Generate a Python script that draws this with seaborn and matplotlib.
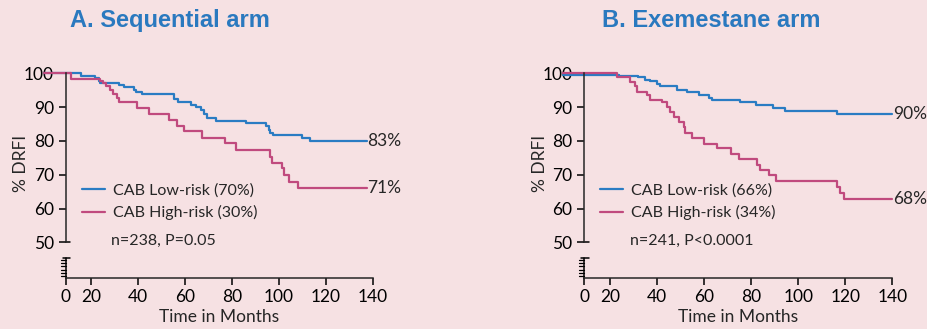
import matplotlib
matplotlib.use("Agg")
import matplotlib.pyplot as plt
import seaborn as sns
import pandas as pd

# Dữ liệu (tháng, % DRFI)
seq_low_t = [0, 15.6, 21.8, 23.3, 23.8, 31.8, 34.2, 38.4, 39.2, 41.6, 55.5, 56.9, 62.5, 64.8, 66.8,
             68.2, 69.3, 73.3, 85.8, 94.5, 95.6, 96.3, 97.3, 110.0, 113.3, 137.4]
seq_low_s = [100, 99.3, 98.7, 97.8, 97.2, 96.6, 96.0, 95.1, 94.4, 93.8, 92.4, 91.5, 90.6, 89.9, 89.1,
             88.0, 86.9, 86.0, 85.2, 84.3, 83.3, 82.3, 81.8, 80.9, 80.1, 80.1]
seq_high_t = [0, 11.3, 24.0, 25.0, 26.5, 28.0, 29.5, 31.0, 32.0, 39.7, 44.7, 53.2, 56.5, 59.6, 67.1,
              76.9, 81.7, 96.3, 97.0, 101.3, 102.1, 104.5, 108.1, 137.4]
seq_high_s = [100, 98.4, 97.8, 97.0, 96.1, 95.0, 93.8, 92.8, 91.6, 89.6, 88.1, 86.3, 84.4, 82.8, 81.0,
              79.3, 77.4, 75.4, 73.5, 71.9, 70.0, 68.0, 66.0, 66.0]

exe_low_t = [0, 24.0, 32.0, 35.0, 37.1, 40.0, 41.4, 48.6, 52.9, 57.9, 62.1, 63.6, 75.2, 82.1, 89.3,
             94.3, 116.5, 140]
exe_low_s = [99.6, 99.2, 98.8, 98.1, 97.6, 96.9, 96.2, 95.2, 94.6, 93.5, 92.6, 92.2, 91.4, 90.7, 89.7,
             88.9, 88.1, 88.1]
exe_high_t = [0, 22.9, 28.6, 30.7, 31.7, 35.7, 37.1, 42.1, 44.3, 45.4, 47.1, 49.3, 51.4, 52.1, 55.0,
              60.0, 65.7, 71.4, 75.0, 82.7, 84.0, 87.6, 90.7, 116.4, 117.9, 119.6, 140]
exe_high_s = [100, 98.9, 97.5, 96.1, 94.6, 93.6, 92.1, 91.4, 89.9, 88.6, 87.2, 85.7, 84.0, 82.4, 80.8,
              79.2, 77.8, 76.2, 74.7, 73.0, 71.5, 69.8, 68.2, 66.5, 64.6, 62.8, 62.8]

titles = ["A. Sequential arm", "B. Exemestane arm"]
low_labels = ["CAB Low-risk (70%)", "CAB Low-risk (66%)"]
high_labels = ["CAB High-risk (30%)", "CAB High-risk (34%)"]
end_low = ["83%", "90%"]
end_high = ["71%", "68%"]
stats = ["n=238, P=0.05", "n=241, P<0.0001"]
xtick_vals = [20, 40, 60, 80, 100, 120, 140]
ytick_vals = [50, 60, 70, 80, 90, 100]

bg = "#f6e1e3"
blue = "#2a7cc3"
pink = "#c04a7e"
title_color = "#2a79bf"

sns.set_theme(style="ticks")
plt.rcParams['font.family'] = ['Lato', 'DejaVu Sans']
plt.rcParams['axes.linewidth'] = 1.1

fig = plt.figure(figsize=(9.27, 3.29), dpi=100, facecolor=bg)
ax_a = fig.add_axes([0.0709, 0.1541, 0.3312, 0.6283])
ax_b = fig.add_axes([0.6303, 0.1541, 0.3323, 0.6283])

panels = [
    (ax_a, seq_low_t, seq_low_s, seq_high_t, seq_high_s),
    (ax_b, exe_low_t, exe_low_s, exe_high_t, exe_high_s),
]
x0 = 9.2
ybot = 39.4

for i, (ax, lt, ls, ht, hs) in enumerate(panels):
    ax.set_facecolor(bg)
    df = pd.concat([
        pd.DataFrame({"t": lt, "s": ls, "g": low_labels[i]}),
        pd.DataFrame({"t": ht, "s": hs, "g": high_labels[i]}),
    ])
    sns.lineplot(data=df, x="t", y="s", hue="g", palette=[blue, pink],
                 drawstyle="steps-post", estimator=None, linewidth=1.6,
                 ax=ax, clip_on=False)
    ax.set_xlim(x0, 140)
    ax.set_ylim(ybot, 100.5)
    ax.set_xticks([x0] + xtick_vals)
    ax.set_xticklabels(["0"] + [str(v) for v in xtick_vals])
    ax.set_yticks(ytick_vals)
    ax.tick_params(axis="both", labelsize=12.5, length=5, width=1.1, colors="black")
    ax.tick_params(axis="y", pad=3.5)
    ax.tick_params(axis="x", pad=2.5)
    ax.spines["top"].set_visible(False)
    ax.spines["right"].set_visible(False)
    ax.spines["left"].set_bounds(50, 100)
    ax.set_xlabel("Time in Months", fontsize=12.5, labelpad=3)
    ax.set_ylabel("% DRFI", fontsize=12.5)
    ax.yaxis.set_label_coords(-0.118, 0.556)

    # axis break on the y axis
    ax.plot([x0, x0 + 1.8], [50, 50], color="black", lw=1.1, clip_on=False)
    ax.plot([x0, x0], [ybot, 45.4], color="black", lw=1.1, clip_on=False)
    ax.plot([x0 - 1.3, x0 + 1.8], [45.4, 45.4], color="black", lw=1.1, clip_on=False)
    for yy in [44.7, 43.8, 42.9, 42.0, 41.1, 40.2]:
        ax.plot([x0 - 2.2, x0], [yy, yy], color="black", lw=0.9, clip_on=False)

    ax.text(lt[-1] + 0.4, ls[-1], end_low[i], fontsize=12.5, va="center", ha="left")
    ax.text(ht[-1] + 0.4, hs[-1], end_high[i], fontsize=12.5, va="center", ha="left")

    leg = ax.legend(loc="center left", bbox_to_anchor=(0.052, 0.37), frameon=False,
                    fontsize=11.5, handlelength=1.45, handletextpad=0.5,
                    borderpad=0, borderaxespad=0, labelspacing=0.45)
    ax.text(0.1476, 0.182, stats[i], transform=ax.transAxes, fontsize=11.5,
            va="center", ha="left")

fig.text(170 / 927, 1 - 26.7 / 329, titles[0], fontsize=17, fontweight="bold",
         color=title_color, ha="center", va="baseline", family="Liberation Sans")
fig.text(711 / 927, 1 - 26.7 / 329, titles[1], fontsize=17, fontweight="bold",
         color=title_color, ha="center", va="baseline", family="Liberation Sans")

fig.savefig("out.png", dpi=100, facecolor=bg)
